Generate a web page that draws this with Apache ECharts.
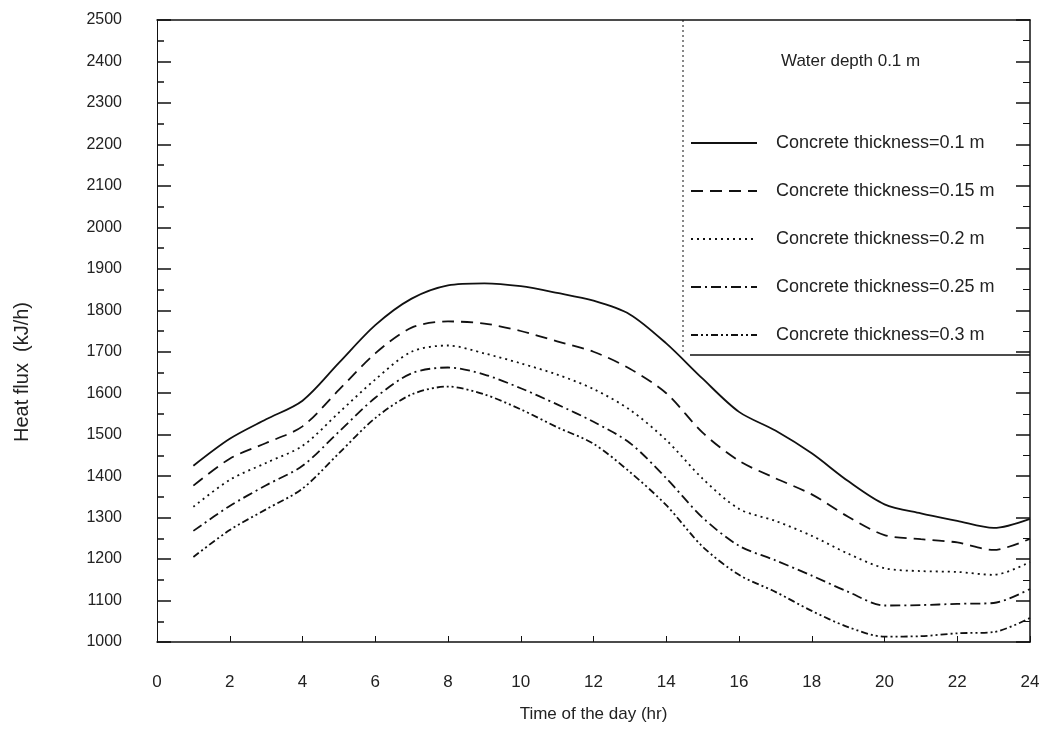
<!DOCTYPE html>
<html>
<head>
<meta charset="utf-8">
<title>Heat flux vs time of day</title>
<script src="https://cdn.jsdelivr.net/npm/echarts@6/dist/echarts.min.js"></script>
<style>
  html, body { margin: 0; padding: 0; background: #fff; }
  #chart { width: 1045px; height: 738px; }
</style>
</head>
<body>
<div id="chart"></div>
<script>
// hours of the day at which the curves are read
var hours = [1, 2, 3, 4, 5, 6, 7, 8, 9, 10, 11, 12, 13, 14, 15, 16, 17, 18, 19, 20, 21, 22, 23, 24];

// heat flux (kJ/h) for each concrete thickness, water depth 0.1 m
var flux010 = [1425, 1490, 1537, 1582, 1673, 1764, 1828, 1860, 1865, 1858, 1842, 1823, 1790, 1720, 1635, 1555, 1510, 1455, 1388, 1332, 1310, 1292, 1275, 1297];
var flux015 = [1377, 1442, 1480, 1520, 1608, 1696, 1758, 1773, 1768, 1750, 1725, 1700, 1659, 1600, 1505, 1437, 1395, 1356, 1302, 1258, 1248, 1240, 1222, 1249];
var flux020 = [1326, 1391, 1432, 1473, 1553, 1633, 1700, 1715, 1696, 1672, 1645, 1610, 1560, 1487, 1394, 1321, 1292, 1256, 1213, 1178, 1171, 1169, 1162, 1193];
var flux025 = [1268, 1328, 1378, 1425, 1507, 1589, 1648, 1662, 1645, 1612, 1573, 1531, 1480, 1395, 1300, 1232, 1197, 1160, 1121, 1088, 1089, 1092, 1094, 1128];
var flux030 = [1205, 1270, 1320, 1370, 1455, 1540, 1597, 1616, 1597, 1561, 1518, 1478, 1410, 1330, 1230, 1162, 1121, 1075, 1036, 1013, 1014, 1021, 1024, 1058];

var seriesNames = [
    'Concrete thickness=0.1 m',
    'Concrete thickness=0.15 m',
    'Concrete thickness=0.2 m',
    'Concrete thickness=0.25 m',
    'Concrete thickness=0.3 m'
];
var seriesValues = [flux010, flux015, flux020, flux025, flux030];
var dashes = ['solid', [12, 7], [2, 4], [10, 4, 2, 4], [7, 3, 2, 3, 2, 3]];

var fontFamily = '"Liberation Sans", Arial, sans-serif';
var ink = '#111';

function pairs(values) {
    return hours.map(function(h, i) { return [h, values[i]]; });
}

var series = seriesNames.map(function(name, i) {
    return {
        name: name,
        type: 'line',
        data: pairs(seriesValues[i]),
        smooth: 0.3,
        symbol: 'none',
        lineStyle: { color: ink, width: 1.8, type: dashes[i] },
        itemStyle: { color: ink }
    };
});

var chart = echarts.init(document.getElementById('chart'));
chart.setOption({
    backgroundColor: '#fff',
    animation: false,
    textStyle: { fontFamily: fontFamily },
    title: {
        text: 'Water depth 0.1 m',
        left: 776,
        top: 48,
        textStyle: { fontFamily: fontFamily, fontSize: 17, fontWeight: 'normal', color: '#222' }
    },
    legend: {
        orient: 'vertical',
        left: 690,
        top: 134,
        itemWidth: 66,
        itemHeight: 14,
        itemGap: 30,
        padding: 0,
        itemStyle: { opacity: 0 },
        textStyle: { fontFamily: fontFamily, fontSize: 18, color: '#222', padding: [0, 0, 0, 14] },
        data: seriesNames
    },
    grid: { left: 157, right: 15, top: 20, bottom: 96 },
    xAxis: [{
        type: 'value',
        position: 'bottom',
        min: 0,
        max: 24,
        interval: 2,
        name: 'Time of the day (hr)',
        nameLocation: 'middle',
        nameGap: 64,
        nameTextStyle: { fontFamily: fontFamily, fontSize: 17, color: '#222' },
        axisLine: { onZero: false, lineStyle: { color: ink, width: 1.5 } },
        axisTick: { inside: true, length: 6, lineStyle: { color: ink } },
        axisLabel: { margin: 32, fontSize: 17, color: '#222', fontFamily: fontFamily },
        splitLine: { show: false }
    }, {
        type: 'value',
        position: 'top',
        min: 0,
        max: 24,
        interval: 2,
        axisLine: { show: true, onZero: false, lineStyle: { color: ink, width: 1.5 } },
        axisTick: { show: false },
        axisLabel: { show: false },
        splitLine: { show: false }
    }],
    yAxis: [{
        type: 'value',
        position: 'left',
        min: 1000,
        max: 2500,
        interval: 100,
        axisLine: { show: true, onZero: false, lineStyle: { color: ink, width: 1 } },
        axisTick: { inside: true, length: 14, lineStyle: { color: ink, width: 1.5 } },
        minorTick: { show: true, splitNumber: 2, length: 7, lineStyle: { color: ink, width: 1.5 } },
        axisLabel: {
            margin: 35, fontSize: 16, color: '#222', fontFamily: fontFamily,
            formatter: function(v) { return String(v); }
        },
        splitLine: { show: false }
    }, {
        type: 'value',
        position: 'right',
        min: 1000,
        max: 2500,
        interval: 100,
        axisLine: { show: true, onZero: false, lineStyle: { color: ink, width: 1.5 } },
        axisTick: { inside: true, length: 14, lineStyle: { color: ink, width: 1.5 } },
        minorTick: { show: true, splitNumber: 2, length: 7, lineStyle: { color: ink } },
        axisLabel: { show: false },
        splitLine: { show: false }
    }],
    graphic: [{
        type: 'text',
        x: 22,
        y: 372,
        rotation: Math.PI / 2,
        style: {
            text: 'Heat flux  (kJ/h)',
            fontFamily: fontFamily,
            fontSize: 20,
            fill: '#222',
            align: 'center',
            verticalAlign: 'middle'
        }
    }, {
        type: 'line',
        shape: { x1: 683, y1: 20, x2: 683, y2: 355 },
        style: { stroke: ink, lineWidth: 1, lineDash: [2, 3] }
    }, {
        type: 'line',
        shape: { x1: 690, y1: 355, x2: 1030, y2: 355 },
        style: { stroke: ink, lineWidth: 1.5 }
    }],
    series: series
});
</script>
</body>
</html>
